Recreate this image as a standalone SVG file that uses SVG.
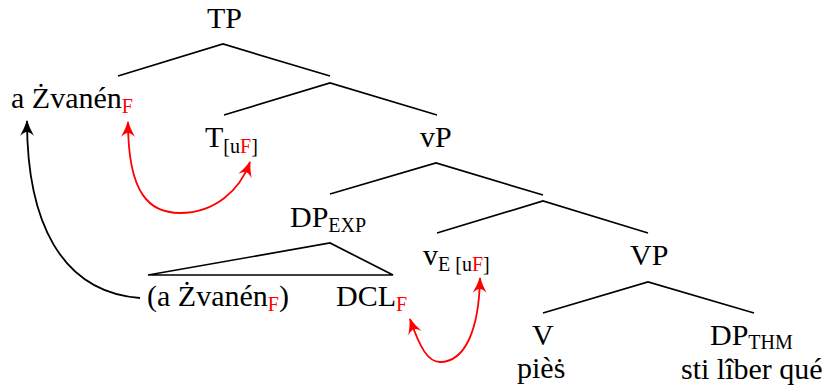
<svg xmlns="http://www.w3.org/2000/svg" width="833" height="390" viewBox="0 0 833 390">
<style>
text{font-size:30px;fill:#000}
.s{font-size:20px}
.r{fill:#ff0000}
.e{stroke:#000;stroke-width:1.7;fill:none}
.ar{stroke:#000;stroke-width:1.8;fill:none}
.ar.red{stroke:#ff0000}
</style>
<defs>
<marker id="hb" viewBox="-18 -9 20 18" refX="0" refY="0" markerWidth="20" markerHeight="18" markerUnits="userSpaceOnUse" orient="auto-start-reverse">
<path d="M1,0 Q-7,-2.5 -15,-7 Q-11,-3 -11,0 Q-11,3 -15,7 Q-7,2.5 1,0 Z" fill="#000"/>
</marker>
<marker id="hr" viewBox="-18 -9 20 18" refX="0" refY="0" markerWidth="20" markerHeight="18" markerUnits="userSpaceOnUse" orient="auto-start-reverse">
<path d="M1,0 Q-7,-2.5 -15,-7 Q-11,-3 -11,0 Q-11,3 -15,7 Q-7,2.5 1,0 Z" fill="#ff0000"/>
</marker>
</defs>
<g id="connectors">
<path class="e" d="M118,76 L223,44 L330,76"/>
<path class="e" d="M224,115 L330,83 L437,115"/>
<path class="e" d="M330,194 L436,163 L543,195"/>
<path class="e" d="M148,275 L330,243 L393,275 Z"/>
<path class="e" d="M437,233 L543,201 L648,233"/>
<path class="e" d="M543,313 L648,282 L754,313"/>
<path class="ar" marker-end="url(#hb)" d="M140,298 C60,292 27,220 27,121"/>
<path class="ar red" marker-start="url(#hr)" marker-end="url(#hr)" d="M128,122 C128,195 150,213 180,213 C215,213 240,190 250,162"/>
<path class="ar red" marker-start="url(#hr)" marker-end="url(#hr)" d="M410,319 C420,348 428,362 440,362 C465,362 479,330 480,278"/>
</g>
<g font-family="'Liberation Serif', 'Times New Roman', serif">
<g id="TP"><text x="207" y="28">TP</text></g>
<g id="aZvanen"><text x="11" y="108">a Żvanén<tspan class="s r" dy="5">F</tspan></text></g>
<g id="T"><text x="205" y="147">T<tspan class="s" dy="6">[u<tspan class="r">F</tspan>]</tspan></text></g>
<g id="vP"><text x="420" y="147">vP</text></g>
<g id="DPEXP"><text x="290" y="227">DP<tspan class="s" dy="5">EXP</tspan></text></g>
<g id="aZvanen2"><text x="147" y="306">(a Żvanén<tspan class="s r" dy="5">F</tspan><tspan dy="-5">)</tspan></text></g>
<g id="DCL"><text x="336" y="306">DCL<tspan class="s r" dy="5">F</tspan></text></g>
<g id="vE"><text x="423" y="265">v<tspan class="s" dy="6">E [u<tspan class="r">F</tspan>]</tspan></text></g>
<g id="VP"><text x="630" y="265">VP</text></g>
<g id="V"><text x="532" y="345">V</text><text x="517" y="378">pièṡ</text></g>
<g id="DPTHM"><text x="710" y="345">DP<tspan class="s" dy="4">THM</tspan></text><text x="681" y="379">sti lîber qué</text></g>
</g>
</svg>
